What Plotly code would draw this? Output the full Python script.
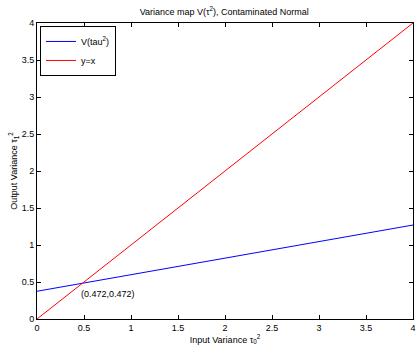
import plotly.graph_objects as go

x_vals = [0, 4]
v_vals = [0.375, 1.27]
ident_vals = [0, 4]
fixed_pt = (0.472, 0.472)
tick_vals = [0, 0.5, 1, 1.5, 2, 2.5, 3, 3.5, 4]
tick_text = ["0", "0.5", "1", "1.5", "2", "2.5", "3", "3.5", "4"]

fnt = "Liberation Sans, Arial, sans-serif"
W, H = 419, 346

fig = go.Figure()
fig.add_scatter(x=x_vals, y=v_vals, mode="lines", name="V(tau<sup>2</sup>)",
                line=dict(color="#0000ff", width=1))
fig.add_scatter(x=x_vals, y=ident_vals, mode="lines", name="y=x",
                line=dict(color="#ff0000", width=1))

fig.add_annotation(x=fixed_pt[0], y=fixed_pt[1], text=f"({fixed_pt[0]},{fixed_pt[1]})",
                   showarrow=False, xanchor="left", yanchor="top", xshift=-2, yshift=-3,
                   font=dict(size=9, color="black", family=fnt))

axis_common = dict(range=[0, 4], tickvals=tick_vals, ticktext=tick_text, automargin=False,
                   showgrid=False, zeroline=False, showline=True, linecolor="black",
                   linewidth=1, mirror="ticks", ticks="inside", ticklen=4,
                   ticklabeloverflow="allow",
                   tickcolor="black", tickfont=dict(size=9, family=fnt, color="black"))

fig.update_xaxes(title=dict(text="Input Variance τ<sub>0</sub><sup>2</sup>", standoff=0,
                            font=dict(size=9, family=fnt, color="black")), **axis_common)
fig.update_yaxes(title=dict(text="Output Variance τ<sub>1</sub><sup>2</sup>", standoff=2,
                            font=dict(size=9, family=fnt, color="black")), **axis_common)

fig.update_layout(
    width=W, height=H,
    margin=dict(l=37, r=6, t=23, b=27, autoexpand=False),
    paper_bgcolor="white", plot_bgcolor="white",
    title=dict(text="Variance map V(τ<sup>2</sup>), Contaminated Normal", x=0.535, xanchor="center",
               y=1 - 12 / H, yanchor="middle", font=dict(size=9, family=fnt, color="black")),
    legend=dict(x=0.008, y=0.99, xanchor="left", yanchor="top", bgcolor="white",
                bordercolor="black", borderwidth=1, font=dict(size=9, family=fnt, color="black"),
                tracegroupgap=0, itemwidth=30),
    showlegend=True,
)

# drop the default 8px body margin so the figure fills the window
fig.write_html("out.html", config={"displayModeBar": False},
               post_script="document.body.style.margin='0';document.body.style.overflow='hidden';")
